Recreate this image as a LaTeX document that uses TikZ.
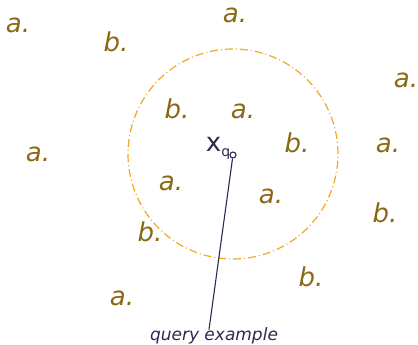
\documentclass[tikz,border=0pt]{standalone}
\usepackage{fontspec}
\setmainfont{DejaVu Sans}
\usepackage{tikz}
\usetikzlibrary{arrows.meta,positioning}
\definecolor{labelgold}{HTML}{8B6914}
\definecolor{queryblue}{HTML}{2B2B4B}
\definecolor{radiusorange}{HTML}{F5A623}

\begin{document}
\begin{tikzpicture}[
    x=1pt, y=-1pt,
    lbl/.style={font=\fontsize{26}{30}\selectfont\itshape, text=labelgold, inner sep=0pt},
    query/.style={font=\fontsize{26}{30}\selectfont, text=queryblue, inner sep=0pt},
    note/.style={font=\fontsize{17}{20}\selectfont\itshape, text=queryblue, inner sep=0pt}
]
    \useasboundingbox (0,0) rectangle (418,345);

    % neighbourhood radius
    \node[draw=radiusorange, line width=1.2pt, dash pattern=on 8pt off 3pt on 1pt off 3pt,
          circle, minimum size=210pt, inner sep=0pt] (range) at (233,154) {};

    % training examples
    \node[lbl] (a1) at (18,25) {a.};
    \node[lbl] (b1) at (116,42) {b.};
    \node[lbl] (a2) at (235,15) {a.};
    \node[lbl] (a3) at (406,80) {a.};
    \node[lbl] (b2) at (177,109) {b.};
    \node[lbl] (a4) at (243,111) {a.};
    \node[lbl] (a5) at (38,154) {a.};
    \node[lbl] (b3) at (297,143) {b.};
    \node[lbl] (a6) at (388,145) {a.};
    \node[lbl] (a7) at (171,183) {a.};
    \node[lbl] (a8) at (271,196) {a.};
    \node[lbl] (b4) at (385,213) {b.};
    \node[lbl] (b5) at (150,232) {b.};
    \node[lbl] (b6) at (311,277) {b.};
    \node[lbl] (a9) at (122,298) {a.};

    % query point
    \node[query] (xq) at (218,148) {x\raisebox{-0.35ex}{\fontsize{14}{16}\selectfont q}};
    \node[draw=queryblue, line width=1.1pt, circle, minimum size=6pt, inner sep=0pt] (qpt) at (233,155) {};
    \node[note] (qlabel) at (214,336) {query example};
    \draw[queryblue, line width=1.1pt] (qpt) -- ([xshift=-5pt,yshift=-2pt]qlabel.north);
\end{tikzpicture}
\end{document}
